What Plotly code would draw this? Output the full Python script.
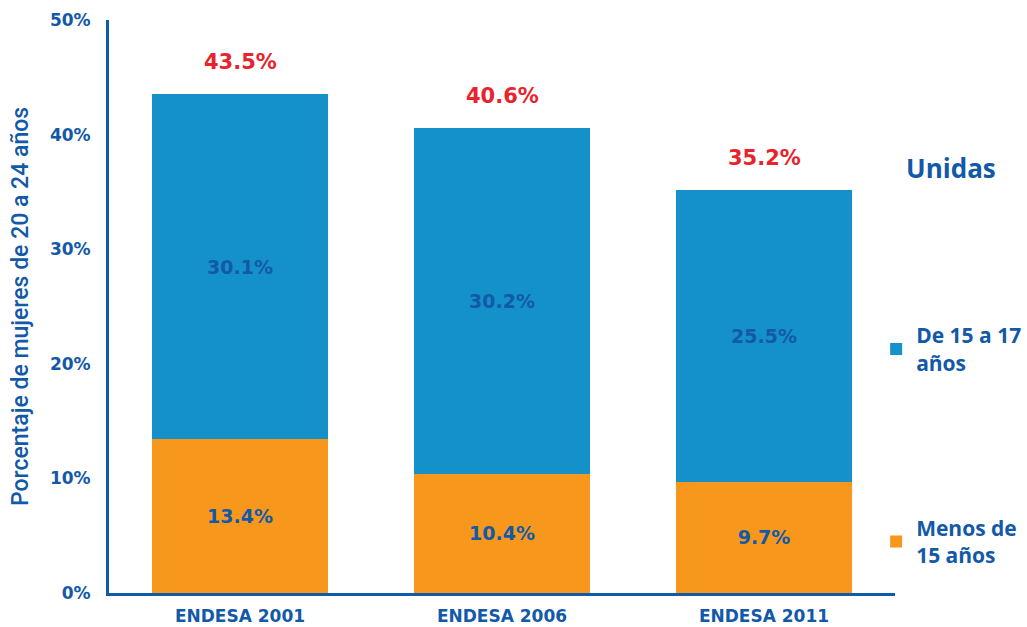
import plotly.graph_objects as go

categories = ["ENDESA 2001", "ENDESA 2006", "ENDESA 2011"]
menos_15 = [13.4, 10.4, 9.7]
de_15_17 = [30.1, 30.2, 25.5]
totales = [43.5, 40.6, 35.2]
y_ticks = [0, 10, 20, 30, 40, 50]
y_tick_labels = ["0%", "10%", "20%", "30%", "40%", "50%"]

BLUE_TXT = "#1259A8"
BAR_BLUE = "#1591CA"
BAR_ORANGE = "#F7981D"
RED = "#E8232C"

fig = go.Figure()
fig.add_trace(go.Bar(
    x=categories, y=menos_15, name="Menos de<br>15 años",
    marker=dict(color=BAR_ORANGE, line=dict(width=0)),
    text=[f"{v:.1f}%" for v in menos_15], textposition="inside",
    insidetextanchor="middle",
    textfont=dict(family="DejaVu Sans", size=19, color=BLUE_TXT, weight="bold"),
    legendgroup="a", legendrank=2, hoverinfo="skip",
))
fig.add_trace(go.Bar(
    x=categories, y=de_15_17, name="De 15 a 17<br>años",
    marker=dict(color=BAR_BLUE, line=dict(width=0)),
    text=[f"{v:.1f}%" for v in de_15_17], textposition="inside",
    insidetextanchor="middle",
    textfont=dict(family="DejaVu Sans", size=19, color=BLUE_TXT, weight="bold"),
    legendgroup="b", legendrank=1, hoverinfo="skip",
))

for c, t in zip(categories, totales):
    fig.add_annotation(x=c, y=t, text=f"{t:.1f}%", showarrow=False,
                       yanchor="middle", yshift=32,
                       font=dict(family="DejaVu Sans", size=21, color=RED, weight="bold"))

fig.add_annotation(xref="paper", yref="paper", x=1.012, y=0.742, xanchor="left",
                   yanchor="middle", text="Unidas", showarrow=False,
                   font=dict(family="Open Sans", size=26, color=BLUE_TXT, weight="bold"))

fig.update_layout(
    width=1027, height=627,
    margin=dict(l=109, r=132, t=20, b=34, autoexpand=False),
    paper_bgcolor="white", plot_bgcolor="white",
    barmode="stack", bargap=0.332,
    showlegend=True,
    legend=dict(x=0.976, y=0.485, xanchor="left", yanchor="top",
                traceorder="grouped", tracegroupgap=135,
                font=dict(family="Open Sans", size=21, color=BLUE_TXT, weight="bold"),
                itemwidth=30, bgcolor="rgba(0,0,0,0)"),
    xaxis=dict(showline=True, linecolor="#0E5BAA", linewidth=3,
               ticks="", showgrid=False, zeroline=False, automargin=False,
               ticklabelstandoff=6,
               tickfont=dict(family="DejaVu Sans", size=17, color=BLUE_TXT, weight="bold"),
               range=[-0.5, 2.5]),
    yaxis=dict(range=[0, 50], tickvals=y_ticks, ticktext=y_tick_labels,
               showline=True, linecolor="#0E5BAA", linewidth=3, automargin=False,
               showgrid=False, zeroline=False, ticks="", ticklabelstandoff=12,
               tickfont=dict(family="DejaVu Sans", size=17, color=BLUE_TXT, weight="bold"),
               title=dict(text="Porcentaje de mujeres de 20 a 24 años",
                          font=dict(family="Roboto", size=23, color=BLUE_TXT, weight=500))),
)

fig.write_html("out.html", config={"displayModeBar": False},
               post_script="document.body.style.margin='0';")
